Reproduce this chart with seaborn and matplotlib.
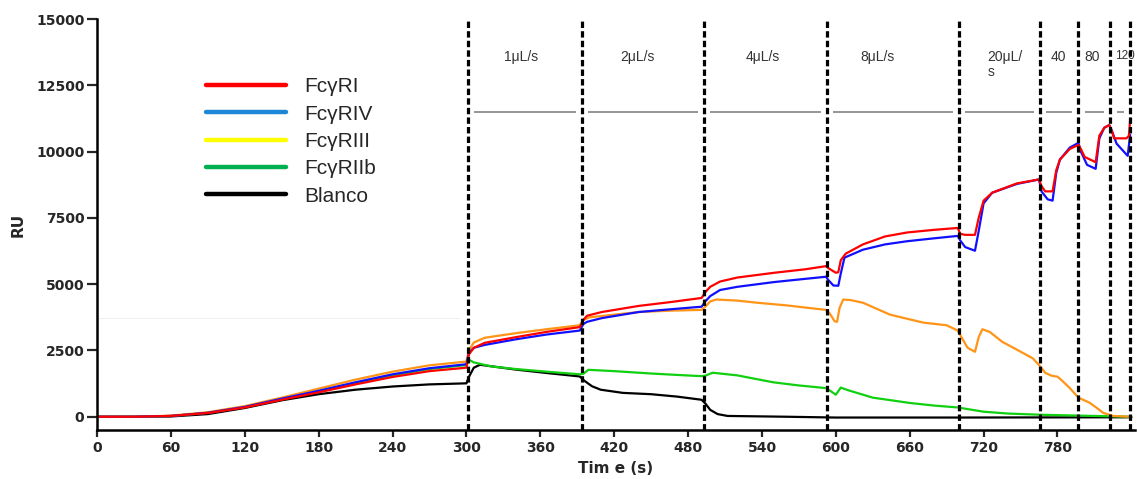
import matplotlib
matplotlib.use('Agg')
import pandas as pd
import matplotlib.pyplot as plt
from matplotlib.lines import Line2D
import seaborn as sns

# --- sensorgram traces (time in s, response in RU) ---
t_fcgr1 = [0, 30, 60, 90, 120, 150, 180, 210, 240, 270, 300,
           302, 306, 315, 340, 365, 392,
           395, 398, 410, 440, 465, 491,
           494, 498, 506, 520, 550, 575, 592,
           594, 600, 602, 604, 608, 622, 640, 658, 680, 699,
           701, 705, 713, 716, 720, 727, 747, 765,
           767, 770, 776, 779, 782, 790, 797,
           799, 802, 811, 814, 818, 822,
           824, 826, 836, 838, 839]
ru_fcgr1 = [0, 0, 30, 140, 350, 640, 920, 1220, 1500, 1720, 1850,
            2350, 2600, 2790, 3000, 3200, 3380,
            3650, 3810, 3950, 4180, 4320, 4480,
            4700, 4900, 5100, 5250, 5430, 5560, 5680,
            5600, 5430, 5450, 5900, 6150, 6500, 6800, 6950, 7050, 7120,
            6900, 6860, 6860, 7500, 8150, 8450, 8800, 8950,
            8700, 8500, 8500, 9300, 9700, 10100, 10250,
            10100, 9800, 9600, 10600, 10900, 11000,
            10800, 10500, 10500, 10600, 11200]

t_fcgr4 = [0, 30, 60, 90, 120, 150, 180, 210, 240, 270, 300,
           302, 306, 315, 340, 365, 392,
           395, 398, 410, 440, 465, 491,
           494, 498, 506, 520, 550, 575, 592,
           594, 598, 602, 604, 607, 622, 640, 658, 680, 699,
           701, 705, 713, 716, 720, 727, 747, 765,
           767, 772, 776, 779, 782, 790, 797,
           799, 804, 811, 814, 818, 822,
           824, 828, 837, 839]
ru_fcgr4 = [0, 0, 30, 150, 370, 680, 980, 1300, 1600, 1830, 1980,
            2400, 2600, 2710, 2920, 3100, 3250,
            3500, 3580, 3720, 3950, 4050, 4150,
            4350, 4550, 4780, 4900, 5080, 5200, 5280,
            5150, 4950, 4940, 5400, 6000, 6300, 6500, 6620, 6730, 6820,
            6650, 6400, 6260, 7000, 8050, 8450, 8780, 8950,
            8500, 8200, 8150, 9200, 9700, 10150, 10330,
            10000, 9500, 9350, 10500, 10900, 11000,
            10800, 10300, 9840, 10630]

t_fcgr3 = [0, 30, 60, 90, 120, 150, 180, 210, 240, 270, 300,
           302, 306, 315, 340, 365, 392,
           395, 400, 420, 440, 465, 491,
           494, 498, 503, 520, 536, 560, 575, 592,
           595, 599, 601, 603, 606, 612, 622, 644, 671, 690, 699,
           702, 707, 713, 716, 719, 725, 735, 747, 760, 765,
           770, 775, 780, 784, 790, 797, 806, 812, 817, 825, 840]
ru_fcgr3 = [0, 0, 40, 170, 400, 720, 1060, 1400, 1700, 1940, 2080,
            2500, 2800, 2980, 3150, 3300, 3450,
            3650, 3750, 3850, 3950, 4000, 4030,
            4150, 4350, 4420, 4380, 4300, 4200, 4120, 4030,
            3900, 3600, 3580, 4100, 4420, 4400, 4300, 3850, 3550, 3450, 3250,
            3000, 2600, 2450, 3000, 3300, 3200, 2830, 2530, 2200, 1950,
            1660, 1550, 1510, 1350, 1080, 720, 530, 330, 150, 30, 0]

t_fcgr2b = [0, 30, 60, 90, 120, 150, 180, 210, 240, 270, 300,
            302, 306, 320, 340, 365, 392,
            395, 399, 420, 450, 470, 491,
            494, 500, 520, 549, 570, 592,
            596, 600, 604, 610, 630, 660, 680, 699,
            720, 740, 766, 800, 840]
ru_fcgr2b = [0, 0, 30, 150, 370, 660, 960, 1270, 1560, 1800, 1950,
             2150, 2050, 1900, 1800, 1700, 1600,
             1620, 1770, 1720, 1630, 1580, 1530,
             1550, 1660, 1560, 1300, 1180, 1080,
             960, 830, 1100, 1000, 720, 520, 420, 350,
             190, 120, 75, 40, 0]

t_blanco = [0, 30, 60, 90, 120, 150, 180, 210, 240, 270, 300,
            302, 306, 311, 340, 365, 392,
            396, 402, 409, 427, 450, 471, 491,
            494, 498, 504, 512, 560, 600, 700, 840]
ru_blanco = [0, 0, 10, 100, 330, 620, 850, 1020, 1140, 1220, 1260,
             1500, 1850, 1960, 1780, 1650, 1520,
             1350, 1150, 1020, 900, 850, 760, 640,
             500, 260, 100, 30, 0, -30, -30, -20]

# injection / flow-rate switches and their labels
switch_times = [301, 394, 493, 593, 700, 766, 797, 823, 839]
flow_labels = ['1\u03bcL/s', '2\u03bcL/s', '4\u03bcL/s', '8\u03bcL/s',
               '20\u03bcL/\ns', '40', '80', '120']
flow_label_x = [344, 439, 541, 634, 723, 781, 808, 827]
baseline_ru = 11500

series = ['FcγRI', 'FcγRIV', 'FcγRIII', 'FcγRIIb', 'Blanco']
traces = {
    'FcγRI': (t_fcgr1, ru_fcgr1),
    'FcγRIV': (t_fcgr4, ru_fcgr4),
    'FcγRIII': (t_fcgr3, ru_fcgr3),
    'FcγRIIb': (t_fcgr2b, ru_fcgr2b),
    'Blanco': (t_blanco, ru_blanco),
}
line_colors = {'FcγRI': '#ff0000', 'FcγRIV': '#1010ff', 'FcγRIII': '#ff9416',
               'FcγRIIb': '#10d010', 'Blanco': '#000000'}
legend_colors = ['#ff0000', '#1e88d8', '#ffff00', '#00b050', '#000000']

frames = []
for name in series:
    t, ru = traces[name]
    frames.append(pd.DataFrame({'time': t, 'RU': ru, 'series': name}))
df = pd.concat(frames, ignore_index=True)

sns.set_theme(style='white')
plt.rcParams['font.family'] = ['DejaVu Sans']

fig = plt.figure(figsize=(11.37, 4.79), dpi=100)
ax = fig.add_axes([0.0853, 0.1023, 0.9130, 0.8580])

# faint guide line left in the original figure
ax.hlines(3730, 0, 295, color='#f0f0f0', lw=0.8, zorder=0)

# draw order: black first, red on top
sns.lineplot(data=df, x='time', y='RU', hue='series',
             hue_order=['Blanco', 'FcγRIIb', 'FcγRIII', 'FcγRIV', 'FcγRI'],
             palette=line_colors, estimator=None, sort=False,
             linewidth=1.6, legend=False, ax=ax)

# grey baseline segments between switches
for a, b in zip(switch_times[:-1], switch_times[1:]):
    ax.hlines(baseline_ru, a + 5, b - 5, color='#8c8c8c', lw=1.3, zorder=2)

for lab, x in zip(flow_labels, flow_label_x):
    small = lab == '120'
    ax.text(x, 13850, lab, ha='left' if ('\n' in lab or small) else 'center',
            va='top', fontsize=8.5 if small else 10, color='#333333',
            family='Liberation Sans', linespacing=1.1, clip_on=False, zorder=3)

for x in switch_times:
    ax.axvline(x, color='black', lw=2.3, linestyle=(0, (2, 1)), zorder=4)

ax.set_xlim(0, 843)
ax.set_ylim(-500, 15000)
ax.set_xticks(range(0, 781, 60))
ax.set_yticks(range(0, 15001, 2500))

for side in ['top', 'right']:
    ax.spines[side].set_visible(False)
for side in ['left', 'bottom']:
    ax.spines[side].set_linewidth(1.8)
    ax.spines[side].set_color('black')

ax.tick_params(axis='x', direction='out', length=5, width=1.6, pad=3,
               labelsize=10, bottom=True)
ax.tick_params(axis='y', direction='out', length=7, width=1.6, pad=2,
               labelsize=10, left=True)
plt.setp(ax.get_xticklabels() + ax.get_yticklabels(), fontweight='bold')

ax.set_xlabel('Tim e (s)', fontsize=11, fontweight='bold')
ax.set_ylabel('RU', fontsize=11, fontweight='bold')
ax.xaxis.set_label_coords(0.5, -0.075)
ax.yaxis.set_label_coords(-0.069, 0.5)

handles = [Line2D([0], [0], color=c, lw=3.2) for c in legend_colors]
ax.legend(handles, series, loc='upper left', bbox_to_anchor=(0.105, 0.858),
          frameon=False, borderpad=0, borderaxespad=0, handlelength=3.85,
          handletextpad=0.85, labelspacing=0.4,
          prop={'family': 'Liberation Sans', 'size': 15})

fig.savefig('out.png', dpi=100)
